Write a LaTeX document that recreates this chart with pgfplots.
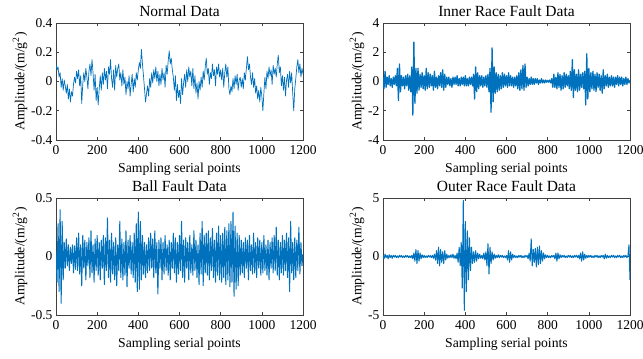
\documentclass[border=0pt]{standalone}
\usepackage{fontspec}
\setmainfont{Liberation Serif}
\usepackage{pgfplots}
\usepackage{pgfplotstable}
\pgfplotsset{compat=1.18}
\definecolor{matblue}{rgb}{0,0.447,0.741}

\pgfplotstableread[row sep=\\]{
y\\
0.12\\0.08\\0.10\\0.03\\0.06\\-0.04\\0.02\\-0.06\\0.01\\-0.03\\-0.08\\-0.02\\-0.12\\-0.05\\-0.14\\-0.07\\-0.10\\-0.02\\0.03\\-0.01\\0.07\\
0.02\\0.08\\-0.03\\0.04\\-0.15\\-0.02\\0.06\\0.00\\0.09\\0.03\\-0.05\\0.07\\0.12\\0.04\\0.15\\0.06\\-0.06\\0.05\\-0.13\\-0.04\\
-0.16\\-0.05\\0.04\\-0.06\\0.06\\-0.02\\0.09\\0.01\\0.07\\-0.05\\0.10\\0.05\\0.15\\0.02\\-0.04\\0.08\\-0.06\\0.11\\0.03\\0.09\\
0.12\\0.01\\0.06\\-0.03\\0.08\\-0.02\\0.03\\-0.09\\0.00\\-0.05\\0.04\\-0.10\\-0.02\\0.05\\-0.07\\0.02\\-0.04\\0.06\\0.01\\0.08\\
0.13\\0.09\\0.22\\0.12\\0.04\\-0.05\\-0.14\\-0.08\\-0.03\\-0.10\\0.02\\-0.04\\0.06\\-0.01\\0.08\\0.02\\0.10\\0.00\\0.07\\-0.03\\
0.05\\-0.02\\0.09\\0.01\\0.06\\-0.04\\0.11\\0.05\\0.14\\0.21\\0.12\\0.16\\0.08\\0.03\\-0.06\\0.04\\-0.13\\-0.02\\-0.11\\-0.06\\
-0.15\\0.02\\-0.09\\-0.01\\0.05\\-0.04\\0.08\\0.00\\0.10\\0.03\\0.07\\-0.03\\0.09\\-0.05\\0.04\\-0.08\\-0.01\\-0.12\\0.00\\-0.06\\
0.03\\-0.04\\0.07\\0.01\\0.10\\0.16\\0.05\\0.09\\-0.02\\0.06\\0.02\\0.12\\0.04\\0.08\\-0.03\\0.10\\0.05\\0.12\\0.03\\0.08\\
0.01\\0.09\\-0.04\\0.06\\0.12\\0.03\\0.10\\-0.05\\-0.09\\-0.03\\-0.07\\0.02\\-0.05\\0.04\\-0.02\\0.05\\-0.06\\0.01\\0.03\\-0.04\\
0.02\\-0.05\\0.06\\0.01\\0.09\\0.17\\0.08\\0.12\\0.03\\-0.02\\0.06\\-0.04\\0.02\\-0.08\\-0.03\\-0.12\\-0.06\\-0.14\\-0.04\\-0.10\\
-0.20\\-0.08\\0.03\\-0.05\\0.07\\0.02\\0.10\\0.04\\0.08\\-0.02\\0.11\\0.05\\0.09\\0.03\\0.12\\0.18\\0.06\\0.10\\-0.03\\0.04\\
-0.06\\0.03\\-0.10\\0.01\\0.05\\-0.04\\0.07\\-0.01\\0.06\\-0.08\\-0.20\\-0.05\\0.02\\0.10\\0.15\\0.06\\0.12\\0.03\\0.09\\0.05\\
}\normaldata

\pgfplotstableread[row sep=\\]{
y\\
0.3\\-0.5\\0.7\\-0.4\\0.3\\-0.2\\0.4\\-0.3\\0.2\\-0.4\\0.3\\-0.2\\0.4\\-0.3\\0.9\\-1.3\\1.2\\-0.7\\0.4\\-0.3\\0.3\\
-0.5\\0.4\\-0.3\\0.5\\-0.6\\0.4\\-0.7\\1.0\\-2.3\\2.7\\-1.5\\0.9\\-0.8\\0.9\\-0.6\\0.5\\-0.4\\0.6\\-0.5\\0.4\\
-0.6\\0.9\\-0.5\\0.6\\-0.4\\0.5\\-0.3\\0.4\\-0.6\\0.7\\-0.4\\0.3\\-0.5\\0.4\\-0.3\\0.6\\-0.4\\0.8\\-0.6\\0.5\\
-0.4\\0.3\\-0.2\\0.3\\-0.3\\0.2\\-0.4\\0.3\\-0.2\\0.3\\-0.2\\0.4\\-0.3\\0.2\\-0.3\\0.3\\-0.2\\0.3\\-0.3\\0.4\\
-0.3\\0.2\\-0.3\\0.3\\-0.2\\0.3\\-0.3\\0.5\\-1.2\\1.0\\-0.7\\0.6\\-0.5\\0.4\\-0.3\\0.4\\-0.4\\0.3\\-0.3\\0.4\\
-0.4\\0.5\\-0.7\\0.9\\-2.1\\2.3\\-1.4\\1.0\\-0.8\\0.6\\-0.7\\0.5\\-0.6\\0.4\\-0.5\\0.6\\-0.4\\0.5\\-0.3\\0.4\\
-0.4\\0.6\\-0.3\\0.4\\-0.3\\0.3\\-0.4\\0.3\\-0.3\\0.4\\-0.5\\0.6\\-0.6\\0.8\\-0.5\\1.1\\-0.6\\1.2\\-0.4\\0.3\\
-0.3\\0.2\\-0.2\\0.3\\-0.2\\0.2\\-0.2\\0.2\\-0.1\\0.2\\-0.2\\0.1\\-0.1\\0.2\\-0.1\\0.1\\-0.1\\0.1\\-0.05\\0.08\\
-0.05\\0.1\\-0.1\\0.2\\-0.4\\0.5\\-0.4\\0.3\\-0.5\\0.6\\-0.4\\0.5\\-0.6\\0.4\\-0.5\\0.6\\-0.4\\0.5\\-0.3\\0.4\\
-0.5\\0.7\\-0.6\\1.5\\-1.1\\0.8\\-0.6\\0.5\\-0.7\\0.8\\-0.6\\0.5\\-0.4\\0.6\\-0.5\\0.7\\-1.6\\1.9\\-1.2\\0.9\\
-0.7\\0.6\\-0.5\\0.7\\-0.6\\0.5\\-0.7\\0.6\\-0.4\\0.5\\-0.6\\0.4\\-0.8\\0.8\\-0.5\\0.4\\-0.3\\0.5\\-0.4\\0.3\\
-0.3\\0.4\\-0.3\\0.3\\-0.4\\0.3\\-0.2\\0.4\\-0.3\\0.3\\-0.2\\0.3\\-0.3\\0.2\\-0.2\\0.3\\-0.2\\0.2\\-0.1\\0.1\\
}\innerdata

\pgfplotstableread[row sep=\\]{
y\\
0.05\\-0.22\\0.28\\-0.30\\0.40\\-0.40\\0.30\\-0.20\\0.12\\-0.10\\0.15\\-0.08\\0.10\\-0.12\\0.08\\-0.06\\0.10\\-0.14\\0.09\\-0.11\\0.16\\
-0.12\\0.20\\-0.15\\0.10\\-0.25\\0.18\\-0.10\\0.14\\-0.20\\0.12\\-0.08\\0.16\\-0.18\\0.22\\-0.14\\0.10\\-0.22\\0.15\\-0.12\\0.18\\
-0.16\\0.12\\-0.20\\0.14\\-0.10\\0.18\\-0.24\\0.16\\-0.12\\0.33\\-0.18\\0.14\\-0.22\\0.20\\-0.15\\0.12\\-0.20\\0.16\\-0.25\\0.10\\
-0.12\\0.30\\-0.18\\0.15\\-0.20\\0.12\\-0.16\\0.22\\-0.26\\0.14\\-0.10\\0.18\\-0.15\\0.12\\-0.18\\0.20\\-0.22\\0.28\\-0.30\\0.38\\
-0.28\\0.30\\-0.20\\0.18\\-0.15\\0.12\\-0.18\\0.10\\-0.14\\0.16\\-0.12\\0.20\\-0.10\\0.15\\-0.18\\0.22\\-0.14\\0.12\\-0.32\\0.14\\
-0.10\\0.16\\-0.20\\0.12\\-0.15\\0.18\\-0.12\\0.10\\-0.16\\0.14\\-0.20\\0.12\\-0.10\\0.20\\-0.14\\0.16\\-0.22\\0.12\\-0.15\\0.18\\
-0.12\\0.30\\-0.18\\0.14\\-0.22\\0.16\\-0.10\\0.12\\-0.20\\0.18\\-0.14\\0.10\\-0.16\\0.22\\-0.12\\0.14\\-0.18\\0.10\\-0.24\\0.20\\
-0.15\\0.30\\-0.25\\0.18\\-0.14\\0.20\\-0.16\\0.22\\-0.20\\0.16\\-0.12\\0.24\\-0.18\\0.14\\-0.22\\0.20\\-0.16\\0.26\\-0.20\\0.18\\
-0.22\\0.20\\-0.18\\0.25\\-0.24\\0.22\\-0.20\\0.28\\-0.26\\0.30\\-0.22\\0.38\\-0.34\\0.26\\-0.28\\0.20\\-0.25\\0.18\\-0.16\\0.14\\
-0.14\\0.12\\-0.18\\0.16\\-0.10\\0.14\\-0.20\\0.18\\-0.12\\0.10\\-0.15\\0.20\\-0.14\\0.12\\-0.18\\0.16\\-0.10\\0.14\\-0.16\\0.12\\
-0.14\\0.18\\-0.12\\0.10\\-0.16\\0.14\\-0.20\\0.12\\-0.10\\0.16\\-0.14\\0.18\\-0.12\\0.25\\-0.16\\0.14\\-0.20\\0.12\\-0.14\\0.18\\
-0.16\\0.14\\-0.12\\0.20\\-0.18\\0.16\\-0.30\\0.30\\-0.14\\0.12\\-0.20\\0.16\\-0.18\\0.14\\-0.12\\0.25\\-0.15\\0.12\\-0.08\\0.02\\
}\balldata

\pgfplotstableread[row sep=\\]{
y\\
0.1\\-0.2\\0.2\\-0.1\\0.1\\-0.2\\0.15\\-0.1\\0.1\\-0.15\\0.1\\-0.05\\0.1\\-0.1\\0.05\\-0.1\\0.1\\-0.05\\0.08\\-0.1\\0.05\\
-0.08\\0.1\\-0.05\\0.08\\-0.1\\0.05\\-0.1\\0.1\\-0.2\\0.3\\-0.4\\0.6\\-0.6\\0.5\\-0.4\\0.3\\-0.2\\0.15\\-0.1\\0.1\\
-0.1\\0.05\\-0.08\\0.1\\-0.05\\0.08\\-0.1\\0.1\\-0.15\\0.2\\-0.3\\0.5\\-0.6\\0.8\\-0.8\\0.6\\-0.5\\0.4\\-0.6\\0.5\\
-0.3\\0.2\\-0.15\\0.1\\-0.1\\0.15\\-0.1\\0.2\\-0.15\\0.1\\-0.2\\0.3\\-0.5\\0.8\\-0.8\\1.2\\-2.7\\4.8\\-4.6\\3.0\\
-3.0\\2.2\\-2.0\\1.6\\-1.2\\0.8\\-0.6\\0.4\\-0.5\\0.5\\-0.4\\0.3\\-0.2\\0.2\\-0.15\\0.1\\-0.2\\0.3\\-0.3\\0.4\\
-0.8\\1.1\\-1.5\\0.8\\-0.6\\0.4\\-0.3\\0.2\\-0.15\\0.1\\-0.1\\0.15\\-0.1\\0.1\\-0.05\\0.1\\-0.1\\0.05\\-0.1\\0.1\\
-0.3\\0.5\\-0.5\\0.4\\-0.3\\0.2\\-0.1\\0.1\\-0.1\\0.05\\-0.1\\0.1\\-0.05\\0.1\\-0.1\\0.05\\-0.1\\0.1\\-0.05\\0.1\\
-0.2\\0.3\\-0.4\\1.5\\-0.8\\0.6\\-0.5\\0.7\\-0.9\\0.8\\-0.7\\0.9\\-0.6\\0.5\\-0.4\\0.3\\-0.2\\0.15\\-0.1\\0.1\\
-0.1\\0.05\\-0.1\\0.1\\-0.05\\0.1\\-0.2\\0.3\\-0.4\\0.3\\-0.2\\0.15\\-0.1\\0.1\\-0.05\\0.1\\-0.1\\0.05\\-0.1\\0.1\\
-0.05\\0.1\\-0.1\\0.05\\-0.1\\0.1\\-0.05\\0.1\\-0.1\\0.1\\-0.2\\0.3\\-0.4\\0.4\\-0.3\\0.2\\-0.15\\0.1\\-0.1\\0.1\\
-0.05\\0.1\\-0.1\\0.05\\-0.1\\0.1\\-0.05\\0.1\\-0.1\\0.05\\-0.1\\0.1\\-0.05\\0.1\\-0.2\\0.2\\-0.15\\0.1\\-0.1\\0.05\\
-0.1\\0.1\\-0.05\\0.1\\-0.1\\0.05\\-0.1\\0.1\\-0.05\\0.1\\-0.1\\0.05\\-0.1\\0.1\\-0.05\\0.1\\-0.1\\0.05\\1.0\\-2.0\\
}\outerdata

\pgfplotsset{
  sig/.style={
    scale only axis, width=247pt, height=117pt,
    anchor=south west,
    xmin=0, xmax=1200, xtick={0,200,...,1200},
    tick align=inside, major tick length=3pt,
    axis line style={line width=0.8pt, black!75},
    tick style={black!75, line width=0.6pt},
    title style={font=\fontsize{15.5}{15.5}\selectfont, yshift=-3pt},
    label style={font=\fontsize{13.7}{14}\selectfont},
    tick label style={font=\fontsize{13.5}{14}\selectfont},
    xlabel={Sampling serial points},
    ylabel={Amplitude/(m/g\textsuperscript{2})},
    /pgf/number format/assume math mode=true,
    /pgf/number format/set thousands separator={},
    xticklabel style={yshift=-2pt},
    xlabel style={yshift=-1pt},
    ylabel style={yshift=-3pt},
  },
  sigline/.style={draw=matblue, line width=1pt, line join=round, mark=none},
}

\begin{document}
\begin{tikzpicture}
\useasboundingbox (0,0) rectangle (643pt,359pt);
\begin{axis}[sig, at={(56pt,219pt)}, title={Normal Data},
  ymin=-0.4, ymax=0.4, ytick={-0.4,-0.2,0,0.2,0.4},
  yticklabel style={/pgf/number format/fixed}]
\addplot[sigline, line width=0.7pt] table[x expr=\coordindex*5, y=y] {\normaldata};
\end{axis}
\begin{axis}[sig, at={(383pt,219pt)}, title={Inner Race Fault Data},
  ymin=-4, ymax=4, ytick={-4,-2,0,2,4}]
\addplot[sigline, line width=1.25pt] table[x expr=\coordindex*5, y=y] {\innerdata};
\end{axis}
\begin{axis}[sig, at={(56pt,44pt)}, title={Ball Fault Data},
  ymin=-0.5, ymax=0.5, ytick={-0.5,0,0.5},
  yticklabel style={/pgf/number format/fixed}]
\addplot[sigline] table[x expr=\coordindex*5, y=y] {\balldata};
\end{axis}
\begin{axis}[sig, at={(383pt,44pt)}, title={Outer Race Fault Data},
  ymin=-5, ymax=5, ytick={-5,0,5}]
\addplot[sigline] table[x expr=\coordindex*5, y=y] {\outerdata};
\end{axis}
\end{tikzpicture}
\end{document}
